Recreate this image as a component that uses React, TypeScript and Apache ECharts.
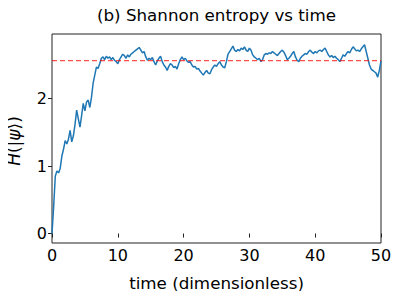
import React, { useEffect, useRef } from "react";
import * as echarts from "echarts";

const times: number[] = [];
for (let i = 0; i <= 200; i++) times.push(i * 0.25);

const entropy: number[] = [
  0.0, 0.4, 0.85, 0.93, 0.9, 0.97, 1.15, 1.25, 1.38, 1.33, 1.4, 1.53, 1.36, 1.45, 1.62, 1.83,
  1.7, 1.58, 1.75, 1.93, 1.82, 1.95, 1.98, 1.87, 2.02, 2.23, 2.35, 2.47, 2.45, 2.52, 2.6, 2.62,
  2.58, 2.63, 2.6, 2.62, 2.58, 2.61, 2.57, 2.55, 2.52, 2.58, 2.62, 2.66, 2.64, 2.6, 2.65, 2.62,
  2.66, 2.68, 2.7, 2.72, 2.74, 2.76, 2.72, 2.68, 2.7, 2.62, 2.57, 2.6, 2.58, 2.61, 2.55, 2.5,
  2.56, 2.6, 2.63, 2.55, 2.5, 2.47, 2.42, 2.48, 2.52, 2.5, 2.46, 2.48, 2.44, 2.52, 2.58, 2.62,
  2.58, 2.6, 2.56, 2.54, 2.55, 2.5, 2.47, 2.48, 2.44, 2.45, 2.41, 2.38, 2.35, 2.39, 2.42, 2.38,
  2.37, 2.43, 2.47, 2.5, 2.48, 2.52, 2.55, 2.5, 2.47, 2.46, 2.55, 2.66, 2.7, 2.74, 2.78, 2.72,
  2.7, 2.73, 2.71, 2.75, 2.73, 2.77, 2.72, 2.7, 2.75, 2.72, 2.65, 2.62, 2.6, 2.58, 2.6, 2.55,
  2.58, 2.65, 2.67, 2.66, 2.68, 2.67, 2.7, 2.68, 2.66, 2.64, 2.67, 2.7, 2.72, 2.69, 2.64, 2.58,
  2.6, 2.63, 2.67, 2.7, 2.62, 2.57, 2.55, 2.6, 2.63, 2.65, 2.67, 2.66, 2.7, 2.72, 2.69, 2.67,
  2.7, 2.68, 2.71, 2.72, 2.7, 2.73, 2.75, 2.7, 2.65, 2.62, 2.64, 2.61, 2.63, 2.6, 2.58, 2.55,
  2.6, 2.65, 2.63, 2.67, 2.7, 2.68, 2.73, 2.77, 2.74, 2.71, 2.72, 2.7, 2.74, 2.77, 2.8, 2.7,
  2.6, 2.5, 2.44, 2.42, 2.4, 2.38, 2.32, 2.42, 2.56,
];

const maxEntropy = 2.565;
const xTicks = [0, 10, 20, 30, 40, 50];
const yTicks = [0, 1, 2];

export default function App() {
  const ref = useRef<HTMLDivElement>(null);
  useEffect(() => {
    if (!ref.current) return;
    const chart = echarts.init(ref.current, null, { renderer: "svg" });
    const font = "DejaVu Sans";
    chart.setOption({
      animation: false,
      graphic: [
        {
          type: "text",
          x: 216.5,
          y: 15,
          style: {
            text: "(b) Shannon entropy vs time",
            fontFamily: font,
            fontSize: 16.7,
            fill: "#000",
            align: "center",
            verticalAlign: "middle",
          },
        },
        {
          type: "text",
          x: 14,
          y: 141,
          rotation: Math.PI / 2,
          style: {
            text: "{i|H}(|{i|ψ}⟩)",
            fontFamily: font,
            fontSize: 17,
            fill: "#000",
            align: "center",
            verticalAlign: "middle",
            rich: {
              i: { fontFamily: font, fontSize: 17, fontStyle: "italic", fill: "#000" },
            },
          },
        },
      ],
      grid: {
        left: 52,
        right: 18,
        top: 34,
        bottom: 56,
        show: true,
        borderColor: "#222",
        borderWidth: 1,
        backgroundColor: "#fff",
      },
      xAxis: {
        type: "value",
        min: 0,
        max: 50,
        interval: 10,
        name: "time (dimensionless)",
        nameLocation: "middle",
        nameGap: 31,
        nameTextStyle: { fontFamily: font, fontSize: 16.7, color: "#000" },
        axisLine: { show: false },
        axisTick: { show: true, length: 4, lineStyle: { color: "#222" }, customValues: xTicks },
        axisLabel: { fontFamily: font, fontSize: 16, color: "#000", margin: 4, customValues: xTicks },
        splitLine: { show: false },
      },
      yAxis: {
        type: "value",
        min: -0.14,
        max: 2.96,
        axisLine: { show: false },
        axisTick: { show: true, length: 4, lineStyle: { color: "#222" }, customValues: yTicks },
        axisLabel: { fontFamily: font, fontSize: 16, color: "#000", margin: 5, customValues: yTicks },
        splitLine: { show: false },
      },
      series: [
        {
          type: "line",
          data: times.map((t, i) => [t, entropy[i]]),
          showSymbol: false,
          lineStyle: { color: "#1f77b4", width: 1.5 },
          itemStyle: { color: "#1f77b4" },
          z: 2,
        },
        {
          type: "line",
          data: [
            [0, maxEntropy],
            [50, maxEntropy],
          ],
          showSymbol: false,
          lineStyle: { color: "rgba(255,0,0,0.7)", width: 1.3, type: [5, 3] },
          z: 3,
        },
      ],
    });
    return () => chart.dispose();
  }, []);
  return <div ref={ref} style={{ width: 399, height: 299, margin: -8 }} />;
}
